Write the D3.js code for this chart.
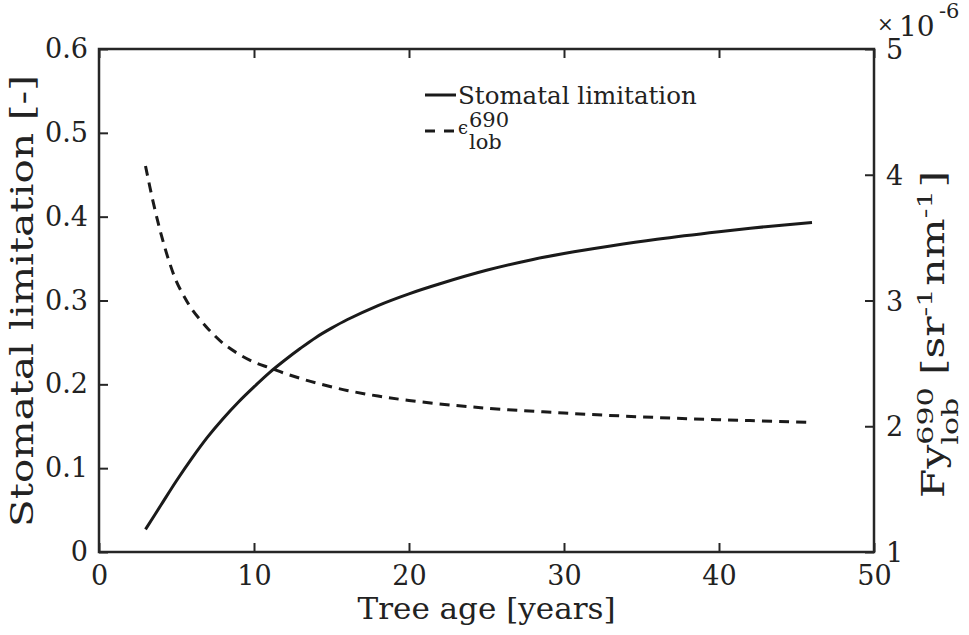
<!DOCTYPE html>
<html>
<head>
<meta charset="utf-8">
<script src="https://cdn.jsdelivr.net/npm/d3@7"></script>
<style>
  html, body { margin: 0; padding: 0; background: #fff; }
  svg text { font-family: "DejaVu Serif", "Liberation Serif", serif; fill: #222; }
</style>
</head>
<body>
<svg id="chart" width="969" height="635"></svg>
<script>
// ---- data ----
const ageStomatal = [3, 4, 5, 6, 7, 8, 9, 10, 11, 12, 13, 14, 15, 16, 18, 20, 22, 25, 28, 30, 33, 36, 40, 43, 46];
const stomatalLimitation = [0.027, 0.056, 0.085, 0.112, 0.137, 0.159, 0.179, 0.197, 0.214, 0.229, 0.243, 0.256, 0.267, 0.277, 0.294, 0.308, 0.320, 0.336, 0.349, 0.356, 0.365, 0.373, 0.382, 0.388, 0.393];
const ageFy = [3, 3.5, 4, 4.5, 5, 5.5, 6, 7, 8, 9, 10, 11, 12, 13, 14, 16, 18, 20, 23, 26, 30, 34, 38, 42, 46];
const fyLob690 = [4.07, 3.78, 3.53, 3.32, 3.15, 3.03, 2.93, 2.78, 2.66, 2.575, 2.51, 2.465, 2.42, 2.38, 2.345, 2.285, 2.24, 2.205, 2.165, 2.135, 2.105, 2.08, 2.06, 2.045, 2.03]; // x 1e-6
const xTicks = [0, 10, 20, 30, 40, 50];
const yLeftTicks = [0, 0.1, 0.2, 0.3, 0.4, 0.5, 0.6];
const yRightTicks = [1, 2, 3, 4, 5];

// ---- layout ----
const svg = d3.select("#chart");
const L = 99, R = 874, T = 49, B = 552;
const axisColor = "#262626";
const x = d3.scaleLinear().domain([0, 50]).range([L, R]);
const yL = d3.scaleLinear().domain([0, 0.6]).range([B, T]);
const yR = d3.scaleLinear().domain([1, 5]).range([B, T]);

const tickFont = 27;

// axes
const gx = svg.append("g").attr("transform", `translate(0,${B})`)
  .call(d3.axisBottom(x).tickValues(xTicks).tickSizeInner(-9).tickSizeOuter(0).tickPadding(14).tickFormat(d3.format("d")));
const gxTop = svg.append("g").attr("transform", `translate(0,${T})`)
  .call(d3.axisTop(x).tickValues(xTicks).tickSizeInner(-9).tickSizeOuter(0).tickFormat(""));
const gyL = svg.append("g").attr("transform", `translate(${L},0)`)
  .call(d3.axisLeft(yL).tickValues(yLeftTicks).tickSizeInner(-9).tickSizeOuter(0).tickPadding(11).tickFormat(d => d === 0 ? "0" : d3.format(".1f")(d)));
const gyR = svg.append("g").attr("transform", `translate(${R},0)`)
  .call(d3.axisRight(yR).tickValues(yRightTicks).tickSizeInner(-9).tickSizeOuter(0).tickPadding(12).tickFormat(d3.format("d")));

[gx, gxTop, gyL, gyR].forEach(g => {
  g.select(".domain").remove();
  g.selectAll(".tick line").attr("stroke", axisColor).attr("stroke-width", 2);
  g.selectAll(".tick text").attr("font-size", tickFont).attr("font-family", "DejaVu Serif").attr("fill", "#222");
});
gx.selectAll(".tick text").attr("dy", "0.71em");
gyR.selectAll(".tick text").attr("dy", "0.36em");

// box
svg.append("rect").attr("x", L).attr("y", T).attr("width", R - L).attr("height", B - T)
  .attr("fill", "none").attr("stroke", axisColor).attr("stroke-width", 2.5);

// lines
const solid = d3.line().x((d, i) => x(ageStomatal[i])).y(d => yL(d)).curve(d3.curveCatmullRom.alpha(0.5));
svg.append("path").datum(stomatalLimitation).attr("d", solid)
  .attr("fill", "none").attr("stroke", "#1a1a1a").attr("stroke-width", 3);

const dashed = d3.line().x((d, i) => x(ageFy[i])).y(d => yR(d)).curve(d3.curveCatmullRom.alpha(0.5));
svg.append("path").datum(fyLob690).attr("d", dashed)
  .attr("fill", "none").attr("stroke", "#1a1a1a").attr("stroke-width", 3)
  .attr("stroke-dasharray", "10,7");

// axis titles
svg.append("text").attr("x", (L + R) / 2).attr("y", 619).attr("text-anchor", "middle")
  .attr("font-size", 30).attr("textLength", 258).attr("lengthAdjust", "spacingAndGlyphs")
  .text("Tree age [years]");

svg.append("text").attr("transform", `translate(33,301) rotate(-90)`)
  .attr("text-anchor", "middle").attr("font-size", 31)
  .attr("textLength", 452).attr("lengthAdjust", "spacingAndGlyphs")
  .text("Stomatal limitation [-]");

// right label: separate pieces laid out along the reading direction inside a rotated group
const rg = svg.append("g");
const pieces = [];
function piece(txt, size, dy) {
  const t = rg.append("text").attr("font-size", size).attr("y", dy).text(txt);
  pieces.push(t);
  return t;
}
piece("Fy", 31, 0);
const pLob = piece("lob", 22, 14);
const p690 = piece("690", 22, -11);
piece("[sr", 31, 0);
piece("-1", 21, -12);
piece("nm", 31, 0);
piece("-1", 21, -12);
piece("]", 31, 0);
let cx = 0;
const gapAfter = [0, 0, 9, 0, 2, 0, 2, 0];
pieces.forEach((t, i) => {
  const w = t.node().getComputedTextLength();
  if (i === 1) { t.attr("x", cx); return; }
  if (i === 2) {
    t.attr("x", cx);
    const lw = pLob.node().getComputedTextLength();
    cx += Math.max(w, lw) + gapAfter[i];
    return;
  }
  t.attr("x", cx);
  cx += w + gapAfter[i];
});
const sx = 327 / cx;
rg.attr("transform", `translate(944,498) rotate(-90) scale(${sx},1)`);

// exponent
svg.append("text").attr("x", 877).attr("y", 31).attr("font-size", 20).text("\u00d7");
svg.append("text").attr("x", 899).attr("y", 36).attr("font-size", 28).text("10");
svg.append("text").attr("x", 939).attr("y", 18).attr("font-size", 21).text("-6");

// legend
svg.append("line").attr("x1", 425).attr("x2", 456).attr("y1", 95).attr("y2", 95)
  .attr("stroke", "#1a1a1a").attr("stroke-width", 3);
svg.append("text").attr("x", 458).attr("y", 104).attr("font-size", 24.5).text("Stomatal limitation");
svg.append("line").attr("x1", 425).attr("x2", 456).attr("y1", 131).attr("y2", 131)
  .attr("stroke", "#1a1a1a").attr("stroke-width", 3).attr("stroke-dasharray", "10,9");
svg.append("text").attr("x", 458).attr("y", 134).attr("font-size", 18).text("\u03f5");
svg.append("text").attr("x", 469).attr("y", 127).attr("font-size", 21).text("690");
svg.append("text").attr("x", 469).attr("y", 149).attr("font-size", 21).text("lob");
</script>
</body>
</html>
